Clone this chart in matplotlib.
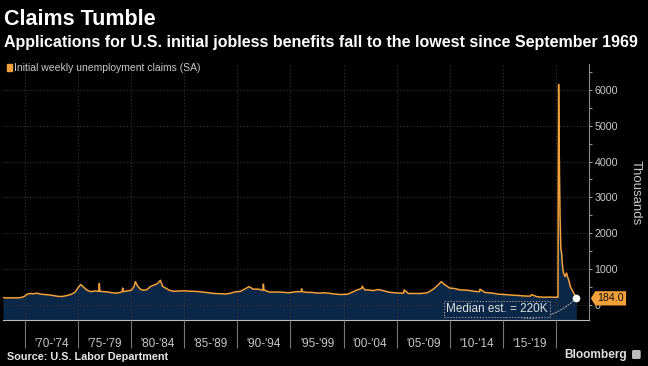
import matplotlib
matplotlib.use('Agg')
import matplotlib.pyplot as plt
from matplotlib import font_manager
from matplotlib.patches import Rectangle, FancyBboxPatch
from matplotlib.path import Path
from matplotlib.ticker import MultipleLocator, FixedLocator

# weekly initial jobless claims (thousands) at key points
years = [
    1967.93, 1968.3, 1968.7, 1969.2, 1969.7, 1970.0, 1970.2, 1970.5, 1970.8, 1971.1,
    1971.5, 1971.9, 1972.3, 1972.7, 1973.1, 1973.5, 1973.9, 1974.3, 1974.7, 1975.0,
    1975.25, 1975.5, 1975.8, 1976.2, 1976.6, 1976.95, 1977.0, 1977.05, 1977.4, 1977.8,
    1978.2, 1978.6, 1979.0, 1979.15, 1979.2, 1979.25, 1979.6, 1980.0, 1980.25, 1980.4,
    1980.6, 1980.9, 1981.2, 1981.5, 1981.8, 1982.2, 1982.5, 1982.75, 1982.95, 1983.3,
    1983.6, 1984.0, 1984.5, 1985.0, 1985.4, 1985.9, 1986.4, 1986.9, 1987.3, 1987.8,
    1988.3, 1988.9, 1989.4, 1989.8, 1990.3, 1990.8, 1991.1, 1991.5, 1992.0, 1992.4,
    1992.45, 1992.5, 1993.0, 1993.6, 1994.2, 1994.8, 1995.1, 1995.6, 1996.0, 1996.05,
    1996.1, 1996.6, 1997.0, 1997.6, 1998.2, 1998.8, 1999.3, 1999.8, 2000.4, 2000.9,
    2001.2, 2001.7, 2001.75, 2002.0, 2002.3, 2002.8, 2003.2, 2003.6, 2004.2, 2004.8,
    2005.3, 2005.65, 2005.7, 2006.1, 2006.7, 2007.3, 2007.9, 2008.5, 2008.9, 2009.2,
    2009.5, 2010.0, 2010.4, 2011.0, 2011.7, 2012.3, 2012.8, 2012.85, 2013.3, 2014.0,
    2014.6, 2015.2, 2015.8, 2016.4, 2017.0, 2017.6, 2017.7, 2018.2, 2018.8, 2019.3,
    2019.8, 2020.1, 2020.19, 2020.21, 2020.25, 2020.30, 2020.38, 2020.46, 2020.53, 2020.6,
    2020.68, 2020.85, 2021.0, 2021.08, 2021.2, 2021.35, 2021.52, 2021.68, 2021.8, 2021.92,
]
claims = [
    205, 195, 200, 195, 210, 250, 300, 320, 310, 330,
    300, 290, 280, 260, 240, 235, 260, 290, 350, 480,
    570, 500, 420, 370, 390, 380, 600, 380, 370, 360,
    340, 330, 350, 370, 470, 370, 390, 410, 500, 650,
    530, 430, 410, 430, 510, 560, 600, 690, 520, 460,
    410, 380, 390, 395, 385, 380, 370, 355, 340, 320,
    315, 305, 330, 365, 380, 460, 510, 440, 440, 410,
    580, 420, 360, 360, 355, 340, 350, 370, 370, 450,
    370, 350, 350, 330, 340, 320, 300, 290, 300, 370,
    410, 460, 520, 420, 420, 400, 430, 410, 360, 340,
    330, 330, 420, 320, 320, 320, 340, 450, 560, 650,
    570, 470, 460, 420, 410, 380, 370, 440, 350, 330,
    300, 290, 275, 265, 250, 245, 290, 230, 215, 220,
    215, 212, 215, 2900, 6150, 4400, 2500, 1550, 1450, 1150,
    930, 790, 890, 790, 700, 513, 420, 327, 260, 184,
]

period_edges = [1970, 1975, 1980, 1985, 1990, 1995, 2000, 2005, 2010, 2015, 2020]
period_labels = ["'70-'74", "'75-'79", "'80-'84", "'85-'89", "'90-'94",
                 "'95-'99", "'00-'04", "'05-'09", "'10-'14", "'15-'19"]
y_ticks = [0, 1000, 2000, 3000, 4000, 5000, 6000]

ORANGE = '#f2a03a'
NAVY = '#0b2748'
GRID = '#363636'
TXT = '#c8c8c8'

names = {f.name for f in font_manager.fontManager.ttflist}
NARROW = 'Liberation Sans Narrow' if 'Liberation Sans Narrow' in names else 'Liberation Sans'
plt.rcParams['font.family'] = ['Liberation Sans', 'DejaVu Sans']

W, H = 648, 366
fig = plt.figure(figsize=(W / 100, H / 100), dpi=100, facecolor='black')
ax = fig.add_axes([3 / W, 46 / H, 586 / W, 256 / H])
ax.set_facecolor('black')

ymin, ymax = -420, 6720
ax.fill_between(years, claims, ymin, color=NAVY, lw=0, zorder=1)
ax.plot(years, claims, color=ORANGE, lw=1.1, zorder=3)
ax.plot(years[-1], claims[-1], 'o', color='white', ms=4.5, zorder=6, clip_on=False)

ax.set_xlim(1967.93, 2023.11)
ax.set_ylim(ymin, ymax)

# axes styling
ax.set_axisbelow(False)
for s in ['top', 'left']:
    ax.spines[s].set_visible(False)
ax.spines['right'].set_color('#8a8a8a')
ax.spines['bottom'].set_color('#bbbbbb')

ax.yaxis.tick_right()
ax.set_yticks(y_ticks)
ax.yaxis.set_minor_locator(MultipleLocator(500))
ax.tick_params(axis='y', which='major', length=2.5, color='#999999', width=0.8,
               labelsize=7.7, labelcolor=TXT, pad=1.5)
ax.tick_params(axis='y', which='minor', length=2, color='#999999', width=0.8)

ax.xaxis.set_major_locator(FixedLocator(period_edges))
ax.xaxis.set_minor_locator(FixedLocator([e + 2.5 for e in period_edges[:-1]]))
ax.set_xticklabels([], minor=False)
ax.set_xticklabels(period_labels, minor=True)
ax.tick_params(axis='x', which='major', length=20, color='#777777', width=0.8)
ax.tick_params(axis='x', which='minor', length=0, labelsize=8.5, labelcolor=TXT, pad=13)

ax.grid(True, axis='both', which='major', color=GRID, ls=(0, (1, 2)), lw=0.8)


# tag for the latest value
def tag_box(x0, y0, width, height, mutation_size):
    pad = 0.2 * mutation_size
    x0, y0 = x0 - pad, y0 - pad
    x1, y1 = x0 + width + 2 * pad, y0 + height + 2 * pad
    tip = 0.3 * (y1 - y0)
    return Path([(x0, y0), (x1, y0), (x1, y1), (x0, y1), (x0 - tip, (y0 + y1) / 2), (x0, y0)],
                closed=True)


ax.annotate(f'{claims[-1]:.1f}', xy=(1, claims[-1]), xycoords=ax.get_yaxis_transform(),
            xytext=(6, 0), textcoords='offset points', ha='left', va='center',
            fontsize=7.7, color='#111111', zorder=10, annotation_clip=False,
            bbox=dict(boxstyle=tag_box, fc=ORANGE, ec='none'))

# median estimate callout
ax.annotate('Median est. = 220K', xy=(years[-1], claims[-1]), xycoords='data',
            xytext=(0.843, 0.042), textcoords='axes fraction', ha='center', va='center',
            fontsize=8.5, color='#e0e0e0', zorder=7,
            bbox=dict(boxstyle='square,pad=0.15', fc=NAVY, ec='#aaaaaa', ls=':', lw=0.8),
            arrowprops=dict(arrowstyle='-', ls=':', color='#aaaaaa', lw=0.8,
                            connectionstyle='arc3,rad=0.35', shrinkA=0, shrinkB=3))

# titles and legend
fig.text(4 / W, 1 - 24.8 / H, 'Claims Tumble', fontsize=15.5, fontweight='bold',
         color='white', va='baseline')
sub = fig.text(4 / W, 1 - 46.5 / H,
               'Applications for U.S. initial jobless benefits fall to the lowest since September 1969',
               fontsize=11.6, fontweight='bold', color='white', va='baseline', family=NARROW)
fig.add_artist(Rectangle((7.4 / W, 1 - 70.5 / H), 5 / W, 6.5 / H, transform=fig.transFigure,
                         color=ORANGE))
leg = fig.text(14.5 / W, 1 - 71 / H, 'Initial weekly unemployment claims (SA)',
               fontsize=8.3, color=TXT, va='baseline', family=NARROW)

fig.text(636 / W, 1 - 192.5 / H, 'Thousands', rotation=270, fontsize=9.5, color=TXT,
         ha='center', va='center')

fig.text(6.7 / W, 1 - 359.5 / H, 'Source: U.S. Labor Department', fontsize=7.8,
         fontweight='bold', color='#e6e6e6', va='baseline')
fig.text(626.7 / W, 1 - 358.3 / H, 'Bloomberg', fontsize=8.6, fontweight='bold',
         color='#e0e0e0', va='baseline', ha='right')
fig.add_artist(FancyBboxPatch((632.7 / W, 1 - 358.3 / H), 7.3 / W, 7.6 / H,
                              boxstyle='round,pad=0,rounding_size=0.002',
                              transform=fig.transFigure, color='#bdbdbd'))

# squeeze the long lines to the widths they take in the original
r = fig.canvas.get_renderer()
for t, target in [(sub, 635), (leg, 186)]:
    w = t.get_window_extent(r).width
    t.set_fontsize(t.get_fontsize() * target / w)

fig.savefig('out.png', dpi=100, facecolor='black')
